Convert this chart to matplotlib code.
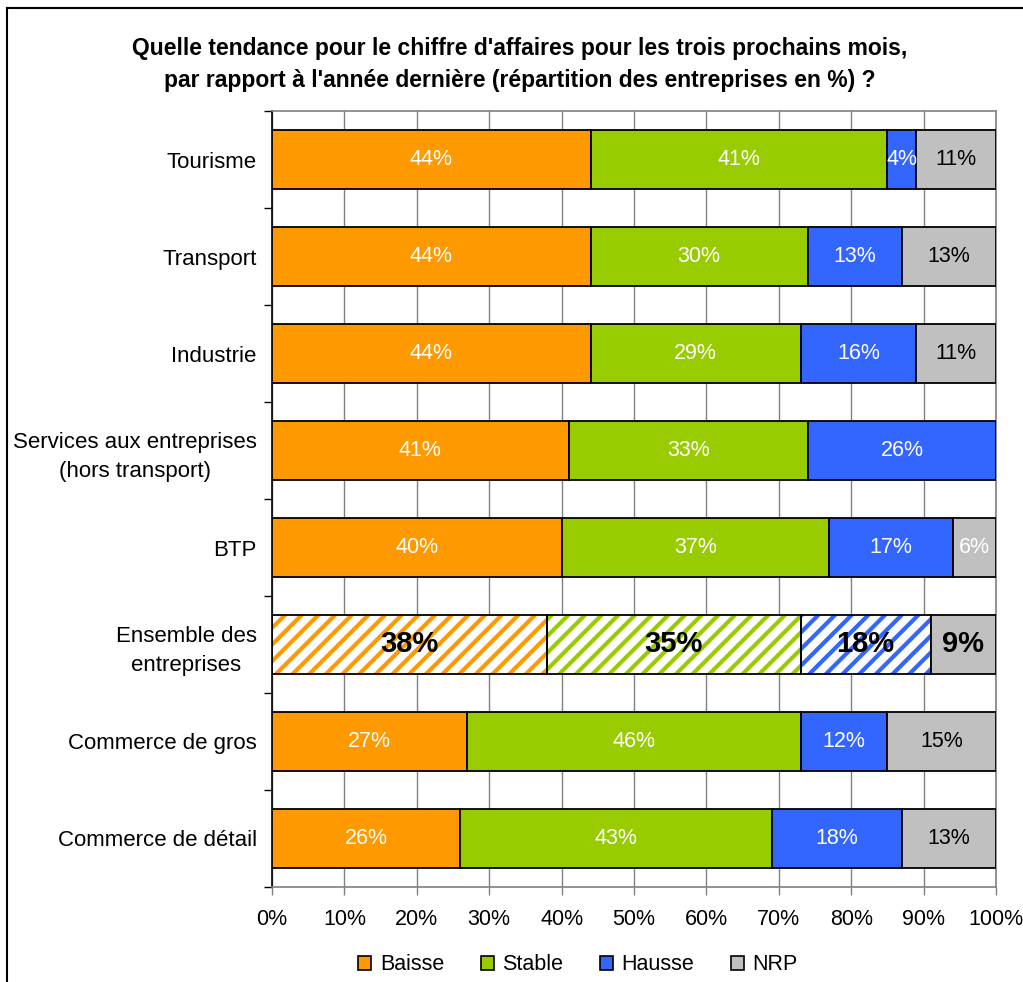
import matplotlib.pyplot as plt
from matplotlib.lines import Line2D
from matplotlib.patches import Patch
import numpy as np

plt.rcParams['font.family'] = ['Liberation Sans', 'DejaVu Sans']
plt.rcParams['hatch.linewidth'] = 3.0

# data (top to bottom)
categories = ['Tourisme', 'Transport', 'Industrie', 'Services aux entreprises\n(hors transport)',
              'BTP', 'Ensemble des\nentreprises', 'Commerce de gros', 'Commerce de détail']
baisse = [44, 44, 44, 41, 40, 38, 27, 26]
stable = [41, 30, 29, 33, 37, 35, 46, 43]
hausse = [4, 13, 16, 26, 17, 18, 12, 18]
nrp = [11, 13, 11, 0, 6, 9, 15, 13]
series_names = ['Baisse', 'Stable', 'Hausse', 'NRP']
colors = ['#FF9900', '#99CC00', '#3366FF', '#C0C0C0']
highlight = 'Ensemble des\nentreprises'

fig = plt.figure(figsize=(10.23, 9.82), dpi=100)
W, H = 1023, 982
ax = fig.add_axes([272 / W, 1 - 887 / H, (996 - 272) / W, (887 - 111) / H])

n = len(categories)
y = np.arange(n)[::-1]
left = np.zeros(n)
bh = 0.61
for k, vals in enumerate([baisse, stable, hausse, nrp]):
    vals = np.array(vals, dtype=float)
    for i in range(n):
        if vals[i] == 0:
            continue
        hatched = categories[i] == highlight and k < 3
        if hatched:
            ax.barh(y[i], vals[i], left=left[i], height=bh, color='white',
                    edgecolor=colors[k], hatch='//', linewidth=0, zorder=2)
            ax.barh(y[i], vals[i], left=left[i], height=bh, fill=False,
                    edgecolor='black', linewidth=1.3, zorder=3)
        else:
            ax.barh(y[i], vals[i], left=left[i], height=bh, color=colors[k],
                    edgecolor='black', linewidth=1.3, zorder=3)
        cx = left[i] + vals[i] / 2
        if categories[i] == highlight:
            ax.text(cx, y[i], f'{int(vals[i])}%', ha='center', va='center',
                    fontsize=21, fontweight='bold', color='black', zorder=4)
        else:
            tc = 'white' if k < 3 or vals[i] < 8 else 'black'
            ax.text(cx, y[i], f'{int(vals[i])}%', ha='center', va='center',
                    fontsize=15.5, color=tc, zorder=4)
    left += vals

ax.set_xlim(0, 100)
ax.set_ylim(-0.5, n - 0.5)
ax.set_xticks(np.arange(0, 101, 10))
ax.set_xticklabels([f'{v}%' for v in range(0, 101, 10)], fontsize=15.5)
ax.set_yticks(np.arange(n + 1) - 0.5, minor=False)
ax.set_yticklabels([])
ax.set_yticks(y, minor=True)
ax.set_yticklabels(categories, minor=True, fontsize=16, multialignment='center',
                   linespacing=1.5)
ax.tick_params(axis='y', which='minor', length=0, pad=11)
ax.tick_params(axis='y', which='major', length=6, width=1, color='black', direction='out')
ax.tick_params(axis='x', length=6, width=1, color='#808080', pad=10)
ax.grid(axis='x', color='#808080', linewidth=1, zorder=0)
ax.set_axisbelow(True)
for s in ['top', 'right', 'bottom']:
    ax.spines[s].set_color('#808080')
    ax.spines[s].set_linewidth(1.2)
ax.spines['left'].set_color('black')
ax.spines['left'].set_linewidth(1.2)

fig.text(520 / W, 1 - 48 / H, "Quelle tendance pour le chiffre d'affaires pour les trois prochains mois,",
         ha='center', va='center', fontsize=16.5, fontweight='bold')
fig.text(520 / W, 1 - 80 / H, "par rapport à l'année dernière (répartition des entreprises en %) ?",
         ha='center', va='center', fontsize=16.5, fontweight='bold')

handles = [Patch(facecolor=c, edgecolor='black', linewidth=1.2) for c in colors]
fig.legend(handles, series_names, loc='center', bbox_to_anchor=(578 / W, 1 - 965 / H),
           ncol=4, frameon=False, fontsize=15.5, handlelength=0.6, handleheight=0.6,
           handletextpad=0.4, columnspacing=1.7)

# outer frame (top and left edges visible)
fig.add_artist(Line2D([7 / W, 1], [1 - 8 / H, 1 - 8 / H], color='black', linewidth=1.5))
fig.add_artist(Line2D([7 / W, 7 / W], [0, 1 - 8 / H], color='black', linewidth=1.5))

fig.savefig('out.png', dpi=100)
